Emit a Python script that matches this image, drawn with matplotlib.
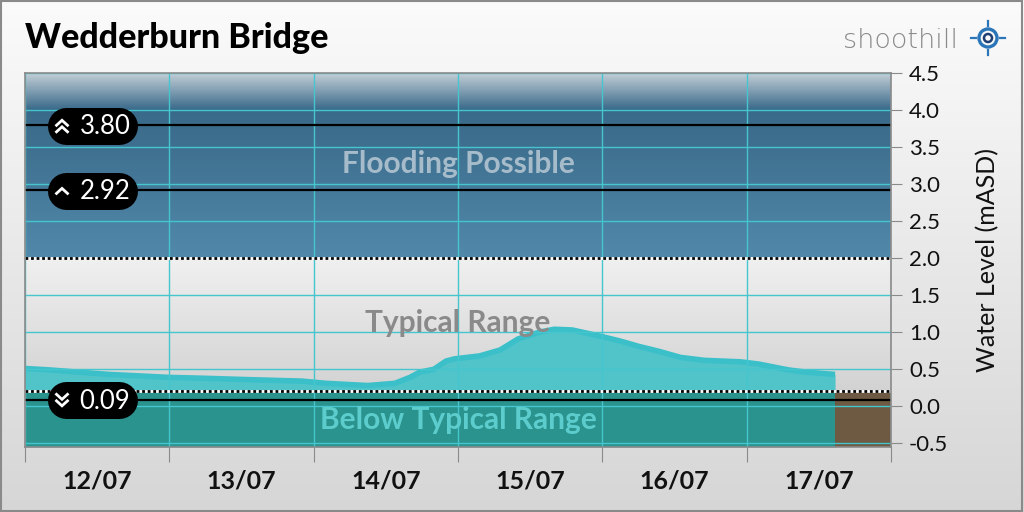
import numpy as np
import matplotlib
matplotlib.use("Agg")
import matplotlib.pyplot as plt
from matplotlib.colors import LinearSegmentedColormap
from matplotlib.patches import Rectangle, Circle

# ---------------- data ----------------
title = "Wedderburn Bridge"
# hours since 12/07 00:00
hours = [0, 4.2, 9, 14, 19, 24, 29, 37, 46, 50, 57, 61.5, 64, 65.6, 68, 70,
         71.4, 75.6, 79, 82, 85.5, 88, 91, 95.5, 99, 102, 105.5, 109, 111,
         113, 119, 122, 127, 130, 134.7]
levels = [0.51, 0.49, 0.46, 0.43, 0.41, 0.39, 0.38, 0.36, 0.34, 0.31, 0.28,
          0.31, 0.39, 0.46, 0.50, 0.61, 0.64, 0.68, 0.76, 0.91, 1.00, 1.04,
          1.03, 0.95, 0.88, 0.81, 0.74, 0.66, 0.64, 0.62, 0.60, 0.57, 0.49,
          0.46, 0.43]
day_labels = ["12/07", "13/07", "14/07", "15/07", "16/07", "17/07"]
thresholds = [3.80, 2.92, 0.09]
threshold_labels = ["3.80", "2.92", "0.09"]
threshold_icons = ["up2", "up1", "down2"]
flood_level = 2.0
typical_low = 0.2
yticks = [-0.5, 0.0, 0.5, 1.0, 1.5, 2.0, 2.5, 3.0, 3.5, 4.0, 4.5]

W, H = 1024, 512
fig = plt.figure(figsize=(W / 100, H / 100), dpi=100)

# figure background gradient
bg = fig.add_axes([0, 0, 1, 1], zorder=-10)
grad = np.linspace(0, 1, 256).reshape(-1, 1)
bgcmap = LinearSegmentedColormap.from_list("bg", ["#fbfbfb", "#d6d6d6"])
bg.imshow(grad, aspect="auto", cmap=bgcmap, extent=[0, 1, 0, 1], origin="upper")
bg.set_xlim(0, 1); bg.set_ylim(0, 1)
bg.axis("off")
bg.add_patch(Rectangle((0.0005, 0.001), 0.998, 0.997, fill=False, ec="#8a8a8a", lw=1.5,
                       transform=bg.transAxes))

x0, x1 = 25 / W, 891 / W
y0, y1 = 1 - 447 / H, 1 - 73 / H
ax = fig.add_axes([x0, y0, x1 - x0, y1 - y0])
xmin, xmax = 0, 144
ymin, ymax = -0.55, 4.5
ax.set_xlim(xmin, xmax)
ax.set_ylim(ymin, ymax)

# flooding band gradient
fcmap = LinearSegmentedColormap.from_list(
    "fl", [(0.0, "#5189aa"), (0.6, "#3f7090"), (0.8, "#3a6a8a"), (1.0, "#c6d1d9")])
ax.imshow(np.linspace(1, 0, 256).reshape(-1, 1), aspect="auto", cmap=fcmap,
          extent=[xmin, xmax, flood_level, ymax], origin="upper", zorder=0)
# typical range gradient
tcmap = LinearSegmentedColormap.from_list("ty", ["#c6c6c6", "#f0f0f0"])
ax.imshow(np.linspace(1, 0, 256).reshape(-1, 1), aspect="auto", cmap=tcmap,
          extent=[xmin, xmax, ymin, flood_level], origin="upper", zorder=0)

# data area
ax.fill_between(hours, levels, ymin, color="#50c4c9", lw=0, zorder=2)
ax.plot(hours, levels, color="#3bc0c9", lw=4, zorder=3, solid_capstyle="butt")

# below typical band (opaque teal) and brown no-data region
ax.fill_between([xmin, hours[-1]], ymin, typical_low, color="#2a938e", lw=0, zorder=4)
ax.fill_between([hours[-1], xmax], ymin, typical_low, color="#6e5942", lw=0, zorder=4)

# grid
for d in range(0, 145, 24):
    ax.axvline(d, color="#45c6cf", lw=1, zorder=5)
for yv in yticks:
    ax.axhline(yv, color="#45c6cf", lw=1, zorder=5)

# dotted range borders
for yv in (flood_level, typical_low):
    ax.axhline(yv, color="white", lw=2, zorder=6)
    ax.axhline(yv, color="black", lw=2, ls=(0, (1, 1)), zorder=6)

# threshold lines
for t in thresholds:
    ax.axhline(t, color="black", lw=1.6, zorder=7)

# band labels
ax.text(72, 3.27, "Flooding Possible", ha="center", va="center", fontsize=21.5,
        fontweight="bold", color="#a7bccb", family="Lato", zorder=8)
ax.text(72, 1.12, "Typical Range", ha="center", va="center", fontsize=21.5,
        fontweight="bold", color="#8a8a8a", family="Lato", zorder=8)
ax.text(72, -0.18, "Below Typical Range", ha="center", va="center", fontsize=21.5,
        fontweight="bold", color="#5ccdcc", family="Lato", zorder=8)

# overlay axes in pixel coordinates for badges / logo
ov = fig.add_axes([0, 0, 1, 1], zorder=30)
ov.set_xlim(0, W); ov.set_ylim(H, 0)
ov.axis("off")
ov.patch.set_alpha(0)

def ypix(v):
    return 407 - v * 74.0

bh = 37  # badge height in px
for t, lab, icon in zip(thresholds, threshold_labels, threshold_icons):
    yc = ypix(t)
    ov.plot([47 + bh / 2, 137 - bh / 2], [yc, yc], color="black",
            lw=bh * 72 / 100, solid_capstyle="round")
    ov.text(105, yc + 1, lab, ha="center", va="center", color="white",
            fontsize=18.5, family="Lato")
    cx = 62
    def chev(ycen, up=True):
        dx, dy = 5.5, 5
        xs = [cx - dx, cx, cx + dx]
        if up:
            ys = [ycen + dy / 2, ycen - dy / 2, ycen + dy / 2]
        else:
            ys = [ycen - dy / 2, ycen + dy / 2, ycen - dy / 2]
        ov.plot(xs, ys, color="white", lw=2.0, solid_joinstyle="miter")
    if icon == "up2":
        chev(yc - 3, True); chev(yc + 3.5, True)
    elif icon == "up1":
        chev(yc, True)
    else:
        chev(yc - 3.5, False); chev(yc + 3, False)

# logo
ov.text(843, 40, "shoothill", ha="left", va="center", fontsize=19.5,
        family="DejaVu Sans", color="#8a8a8a", fontweight=200)
lx, ly = 988, 38
ov.add_patch(Circle((lx, ly), 9, fill=False, ec="#2a76b8", lw=2.4))
ov.add_patch(Circle((lx, ly), 4, fill=False, ec="#1e3f73", lw=1.8))
for (a1, b1, a2, b2) in [(lx - 17, ly, lx - 12, ly), (lx + 12, ly, lx + 17, ly),
                         (lx, ly - 17, lx, ly - 12), (lx, ly + 12, lx, ly + 17)]:
    ov.plot([a1, a2], [b1, b2], color="#2a76b8", lw=1.6)

# axes styling
for s in ax.spines.values():
    s.set_color("#8a8a8a")
    s.set_linewidth(1.2)
    s.set_zorder(9)

ax.yaxis.tick_right()
ax.set_yticks(yticks)
ax.set_yticklabels([f"{v:.1f}" for v in yticks], family="Lato", fontsize=16)
ax.tick_params(axis="y", length=8, color="#8a8a8a", pad=5, labelcolor="#111111")
ax.yaxis.set_label_position("right")
ax.set_ylabel("Water Level (mASD)", family="Lato", fontsize=18, labelpad=20,
              color="#111111")

ax.set_xticks(range(0, 145, 24))
ax.set_xticklabels([])
ax.set_xticks([12 + 24 * i for i in range(6)], minor=True)
ax.set_xticklabels(day_labels, minor=True, family="Lato", fontsize=18,
                   fontweight="bold")
ax.tick_params(axis="x", which="major", length=11, color="#8a8a8a")
ax.tick_params(axis="x", which="minor", length=0, pad=16, labelcolor="#111111")

# title
fig.text(25 / W, 1 - 38 / H, title, ha="left", va="center", fontsize=24.5,
         fontweight="black", family="Lato", color="black")

fig.savefig("out.png", dpi=100)
